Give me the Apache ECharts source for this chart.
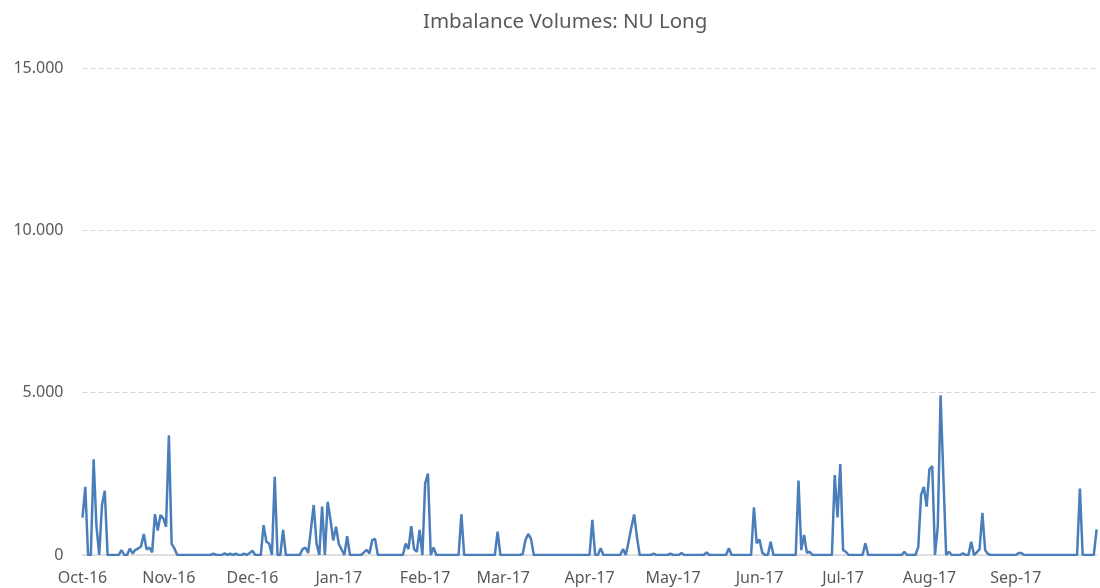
<!DOCTYPE html>
<html>
<head>
<meta charset="utf-8">
<script src="https://cdn.jsdelivr.net/npm/echarts@6/dist/echarts.min.js"></script>
<style>
  html, body { margin: 0; padding: 0; background: #fff; }
  #box { width: 1100px; height: 588px; }
</style>
</head>
<body>
<div id="box"></div>
<script>
// month labels on the x axis
const monthLabels = ['Oct-16', 'Nov-16', 'Dec-16', 'Jan-17', 'Feb-17', 'Mar-17',
  'Apr-17', 'May-17', 'Jun-17', 'Jul-17', 'Aug-17', 'Sep-17'];

// daily NU Long imbalance volumes, one array per month
const oct16 = [1150, 2100, 0, 0, 2950, 900, 0, 1540, 1980, 0, 0, 0, 0, 0, 150, 0, 0, 200, 50, 160, 200, 260, 650, 170, 230, 80, 1260, 750, 1230, 1130, 870];
const nov16 = [3690, 340, 200, 0, 0, 0, 0, 0, 0, 0, 0, 0, 0, 0, 0, 0, 40, 0, 0, 0, 50, 0, 40, 0, 40, 0, 0, 40, 0, 60];
const dec16 = [130, 0, 0, 0, 920, 410, 350, 0, 2410, 0, 0, 770, 0, 0, 0, 0, 0, 0, 180, 230, 60, 800, 1540, 350, 0, 1490, 0, 1640, 1080, 450, 870];
const jan17 = [340, 170, 0, 580, 0, 0, 0, 0, 0, 80, 160, 50, 460, 500, 0, 0, 0, 0, 0, 0, 0, 0, 0, 0, 350, 180, 890, 180, 100, 770, 0];
const feb17 = [2210, 2510, 0, 230, 0, 0, 0, 0, 0, 0, 0, 0, 0, 1250, 0, 0, 0, 0, 0, 0, 0, 0, 0, 0, 0, 0, 720, 0];
const mar17 = [0, 0, 0, 0, 0, 0, 0, 30, 460, 650, 490, 0, 0, 0, 0, 0, 0, 0, 0, 0, 0, 0, 0, 0, 0, 0, 0, 0, 0, 0, 0];
const apr17 = [0, 1080, 0, 0, 210, 0, 0, 0, 0, 0, 0, 0, 180, 0, 400, 850, 1250, 560, 0, 0, 0, 0, 0, 40, 0, 0, 0, 0, 0, 40];
const may17 = [0, 0, 0, 60, 0, 0, 0, 0, 0, 0, 0, 0, 80, 0, 0, 0, 0, 0, 0, 0, 210, 0, 0, 0, 0, 0, 0, 0, 0, 1470, 360];
const jun17 = [480, 70, 0, 0, 410, 0, 0, 0, 0, 0, 0, 0, 0, 0, 2290, 150, 620, 70, 100, 0, 0, 0, 0, 0, 0, 0, 0, 2460, 1160, 2800];
const jul17 = [150, 100, 0, 0, 0, 0, 0, 0, 360, 0, 0, 0, 0, 0, 0, 0, 0, 0, 0, 0, 0, 0, 100, 0, 0, 0, 0, 250, 1850, 2100, 1490];
const aug17 = [2640, 2740, 0, 900, 4920, 2400, 0, 100, 0, 0, 0, 0, 50, 0, 0, 410, 0, 80, 180, 1300, 150, 30, 0, 0, 0, 0, 0, 0, 0, 0, 0];
const sep17 = [0, 60, 60, 0, 0, 0, 0, 0, 0, 0, 0, 0, 0, 0, 0, 0, 0, 0, 0, 0, 0, 0, 0, 2050, 0, 0, 0, 0, 0, 790];

const yTicks = [0, 5000, 10000, 15000];

const months = [oct16, nov16, dec16, jan17, feb17, mar17, apr17, may17, jun17, jul17, aug17, sep17];
let days = [];
let values = [];
months.forEach((arr, m) => {
  arr.forEach((v, i) => {
    days.push((i + 1) + '-' + monthLabels[m]);
    values.push(v);
  });
});

const txt = '#595959';
let myChart = echarts.init(document.getElementById('box'));
let option = {
  animation: false,
  textStyle: { fontFamily: 'Noto Sans' },
  title: {
    text: 'Imbalance Volumes: NU Long',
    left: 418,
    top: 7,
    textStyle: { color: txt, fontSize: 20.5, fontWeight: 'normal', fontFamily: 'Noto Sans' }
  },
  grid: { left: 82.5, right: 3.4, top: 68, bottom: 33 },
  xAxis: {
    type: 'category',
    data: days,
    boundaryGap: false,
    axisLine: { lineStyle: { color: '#d9d9d9', width: 1.5 } },
    axisTick: { show: false },
    axisLabel: {
      color: txt,
      fontSize: 16,
      margin: 15,
      interval: (idx, val) => val.startsWith('1-'),
      formatter: (val) => val.slice(2)
    },
    splitLine: { show: false }
  },
  yAxis: {
    type: 'value',
    min: yTicks[0],
    max: yTicks[yTicks.length - 1],
    interval: 5000,
    axisLine: { show: false },
    axisTick: { show: false },
    axisLabel: {
      color: txt,
      fontSize: 16,
      margin: 19,
      formatter: (v) => v === 0 ? '0' : (v / 1000) + '.000'
    },
    splitLine: { lineStyle: { color: '#d4d4d4', type: [5, 3], width: 1 } }
  },
  series: [{
    name: 'NU Long',
    type: 'line',
    data: values,
    symbol: 'none',
    lineStyle: { color: '#4a7ebb', width: 2.5 },
    z: 3
  }]
};
myChart.setOption(option);
</script>
</body>
</html>
